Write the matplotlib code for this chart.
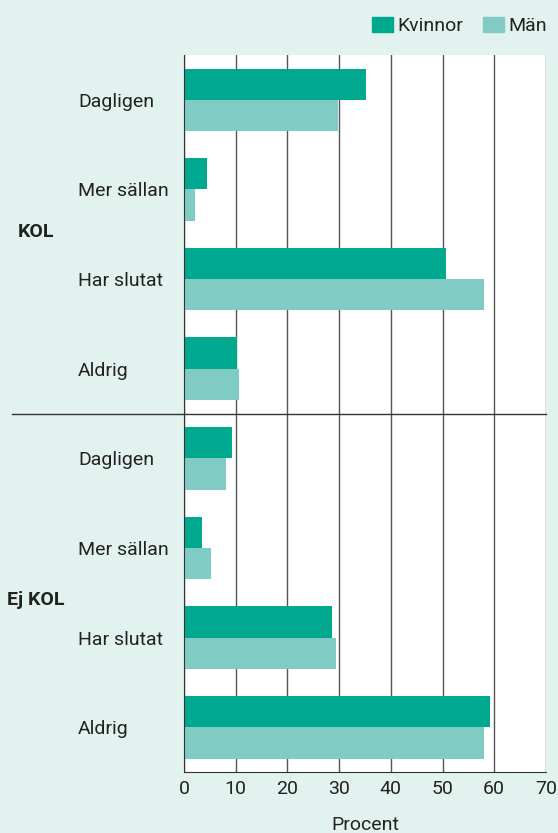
import matplotlib.pyplot as plt
import matplotlib.transforms as mtransforms
from matplotlib.patches import Patch
import numpy as np

# data (procent)
categories = ['Dagligen', 'Mer sällan', 'Har slutat', 'Aldrig',
              'Dagligen', 'Mer sällan', 'Har slutat', 'Aldrig']
groups = ['KOL', 'Ej KOL']
kvinnor = [35.2, 4.4, 50.7, 10.2, 9.3, 3.5, 28.6, 59.2]
man = [29.8, 2.1, 58.0, 10.6, 8.1, 5.2, 29.4, 58.0]
xticks = [0, 10, 20, 30, 40, 50, 60, 70]

BG = '#E2F2EE'
DARK = '#00A890'
LIGHT = '#80CCC4'
TXT = '#222222'
GRID = '#555555'
FS = 14

plt.rcParams['font.family'] = ['Roboto', 'DejaVu Sans']

fig = plt.figure(figsize=(5.58, 8.33), dpi=100, facecolor=BG)
ax = fig.add_axes([0.3297, 0.0732, 0.6487, 0.8607])
ax.set_facecolor('white')

y = np.arange(len(categories))
h = 0.35
ax.barh(y - h / 2, kvinnor, height=h, color=DARK, label='Kvinnor', zorder=3)
ax.barh(y + h / 2, man, height=h, color=LIGHT, label='Män', zorder=3)

ax.set_xlim(0, 70)
ax.set_ylim(len(categories) - 0.5, -0.5)
ax.set_xticks(xticks)
ax.set_yticks(y)
ax.set_yticklabels(categories, ha='left')
ax.tick_params(axis='both', length=0, labelsize=FS, colors=TXT)
ax.tick_params(axis='y', pad=(184 - 78) / 1.389)
ax.tick_params(axis='x', pad=6)
ax.grid(axis='x', color=GRID, linewidth=1, zorder=1)
for s in ['top', 'right']:
    ax.spines[s].set_visible(False)
ax.spines['left'].set_color('#333333')
ax.spines['bottom'].set_color('#333333')
ax.spines['left'].set_zorder(4)
ax.set_xlabel('Procent', fontsize=FS, color=TXT, labelpad=13)

# separator between KOL and Ej KOL
x0 = -(184 - 12) / 362
ax.axhline(3.5, xmin=x0, xmax=1, color='#333333', linewidth=1, clip_on=False, zorder=5)

# group labels
trans = mtransforms.blended_transform_factory(fig.transFigure, ax.transData)
ax.text(18 / 558, 1.475, groups[0], transform=trans, fontsize=FS, fontweight='bold',
        color=TXT, va='center', ha='left')
ax.text(7 / 558, 5.58, groups[1], transform=trans, fontsize=FS, fontweight='bold',
        color=TXT, va='center', ha='left')

handles = [Patch(color=DARK, label='Kvinnor'), Patch(color=LIGHT, label='Män')]
fig.legend(handles=handles, loc='upper right', bbox_to_anchor=(555 / 558, 1 - 9 / 833),
           ncol=2, frameon=False, fontsize=FS, handlelength=1.08, handleheight=0.82,
           handletextpad=0.25, columnspacing=1.0, borderaxespad=0, labelcolor=TXT)

fig.savefig('out.png', dpi=100, facecolor=BG)
